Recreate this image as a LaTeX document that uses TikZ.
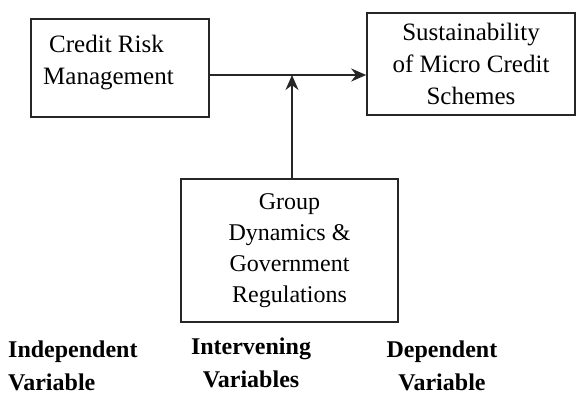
\documentclass[tikz,border=0pt]{standalone}
\usepackage{fontspec}
\setmainfont{Liberation Serif}
\usetikzlibrary{arrows.meta}
\begin{document}
\begin{tikzpicture}[x=1pt, y=-1pt, >={Stealth[length=15pt,width=13pt]},
    box/.style={draw=black!85, line width=1.6pt, rectangle, inner sep=0pt},
    boxtext/.style={font=\fontsize{25}{32}\selectfont, align=center, inner sep=0pt},
    vartext/.style={font=\fontsize{24}{33}\selectfont\bfseries, inner sep=0pt}]
    \useasboundingbox (0,0) rectangle (576,394);
    \clip (0,0) rectangle (576,394);

    % boxes
    \node[box, minimum width=178pt, minimum height=98pt] (crm) at (120,68) {};
    \node[boxtext, align=left, anchor=base west] (crmtext) at (43,84) {\hspace{6pt}Credit Risk\\Management};
    \node[box, boxtext, minimum width=208pt, minimum height=102pt] (sms) at (471,64) {Sustainability\\of Micro Credit\\Schemes};
    \node[box, boxtext, minimum width=217pt, minimum height=143pt, font=\fontsize{24}{31}\selectfont] (gdg) at (289.5,250.5) {Group\\Dynamics \&\\Government\\Regulations};

    % arrows
    \coordinate (j) at (292,75);
    \draw[->, line width=1.6pt, black!85] (crm.east |- j) -- (j -| sms.west);
    \draw[->, line width=1.6pt, black!85] (j |- gdg.north) -- (j);

    % variable labels
    \node[vartext, align=left, anchor=base west] (indep) at (8,390) {Independent\\Variable};
    \node[vartext, align=center, anchor=base] (interv) at (251,387) {Intervening\\Variables};
    \node[vartext, align=center, anchor=base] (dep) at (442,390) {Dependent\\Variable};
\end{tikzpicture}
\end{document}
